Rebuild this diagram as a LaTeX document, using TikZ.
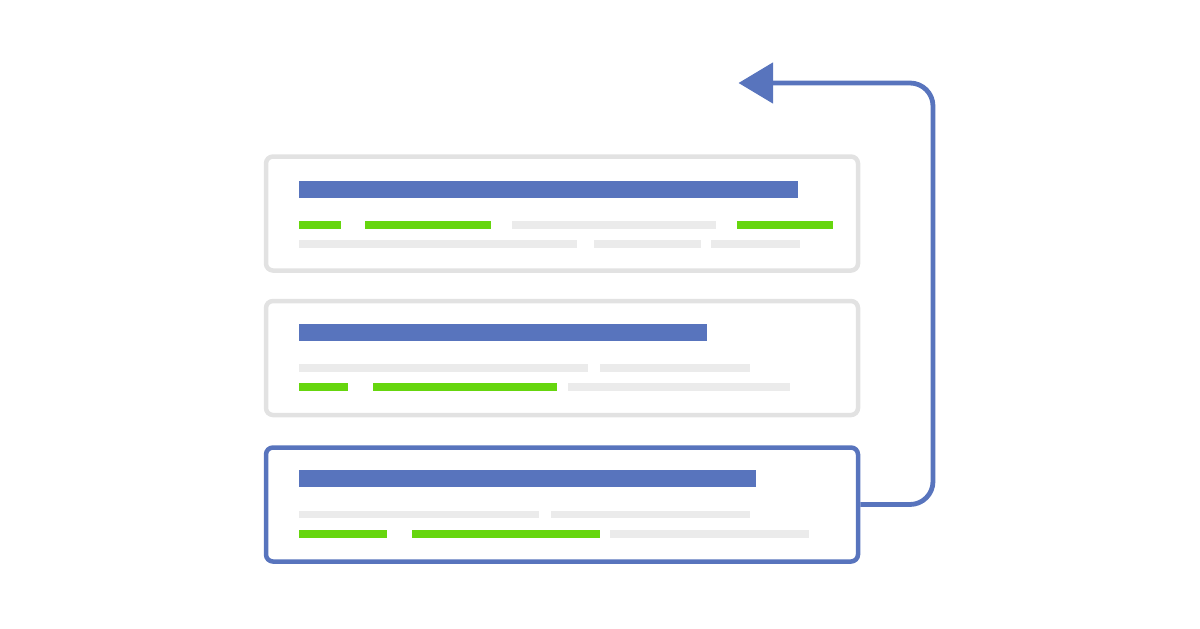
\documentclass[tikz,border=0pt]{standalone}
\usetikzlibrary{arrows.meta}
\definecolor{cardline}{HTML}{E2E2E2}
\definecolor{titleb}{HTML}{5874BD}
\definecolor{linkg}{HTML}{66D60E}
\definecolor{textl}{HTML}{EBEBEB}
\tikzset{
	card/.style={draw=cardline,line width=2.25pt,rounded corners=3.5pt,minimum width=296pt,minimum height=57pt,inner sep=0pt},
	picked/.style={card,draw=titleb},
	link/.style={draw=titleb,line width=2.4pt,rounded corners=11.5pt,-{Triangle[length=17.25pt,width=20pt]}}
}
\begin{document}
\begin{tikzpicture}[x=0.5pt,y=-0.5pt]
		\useasboundingbox (0,0) rectangle (1200,628);
		%
		\node[card] (result1) at (562,213.5) {};
		\node[card] (result2) at (562,358) {};
		\node[picked] (result3) at (562,504.5) {};
		\coordinate (corner) at (933,83);
		\coordinate (tip) at (738.5,83);
		\draw[link] (result3.east) -| (corner) -- (tip);
		%
		\fill[titleb] (299,181) rectangle (797.5,198); %result 1
		\fill[linkg] (299,221.3) rectangle (340.5,228.7);
		\fill[linkg] (365,221.3) rectangle (490.5,228.7);
		\fill[textl] (512,221.3) rectangle (716,228.7);
		\fill[linkg] (737,221.3) rectangle (833,228.7);
		\fill[textl] (299,240.3) rectangle (577,247.7);
		\fill[textl] (594,240.3) rectangle (700.5,247.7);
		\fill[textl] (710.5,240.3) rectangle (800,247.7);
		%
		\fill[titleb] (299,323.5) rectangle (706.5,340.5); %result 2
		\fill[textl] (299,364.3) rectangle (588,371.7);
		\fill[textl] (600,364.3) rectangle (750,371.7);
		\fill[linkg] (299,383) rectangle (348,390.5);
		\fill[linkg] (373,383) rectangle (557,390.5);
		\fill[textl] (568,383) rectangle (790,390.5);
		%
		\fill[titleb] (299,470.3) rectangle (756,487.3); %result 3
		\fill[textl] (299,510.7) rectangle (538.5,518.3);
		\fill[textl] (550.5,510.7) rectangle (750,518.3);
		\fill[linkg] (299,530) rectangle (387,537.5);
		\fill[linkg] (412,530) rectangle (599.5,537.5);
		\fill[textl] (610,530) rectangle (808.5,537.5);
	\end{tikzpicture}
\end{document}
